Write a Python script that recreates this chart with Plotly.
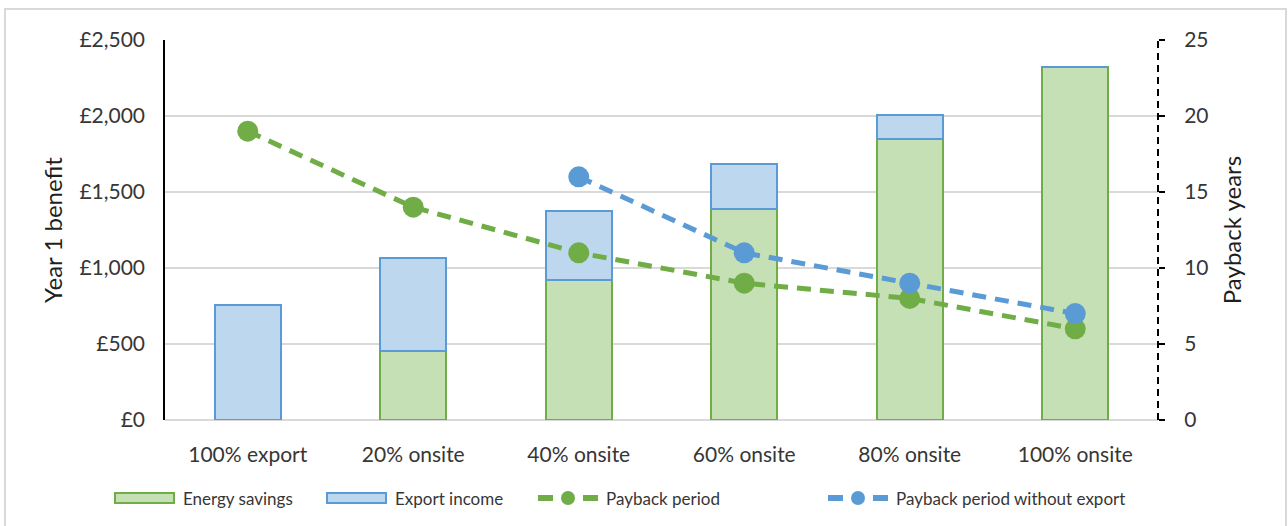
import plotly.graph_objects as go

# Scenario categories and values
categories = ["100% export", "20% onsite", "40% onsite", "60% onsite", "80% onsite", "100% onsite"]
energy_savings = [0, 455, 920, 1385, 1850, 2320]
export_income = [755, 610, 455, 300, 155, 0]
payback_period = [19, 14, 11, 9, 8, 6]
payback_no_export = [None, None, 16, 11, 9, 7]

left_ticks = [0, 500, 1000, 1500, 2000, 2500]
left_tick_text = ["£0", "£500", "£1,000", "£1,500", "£2,000", "£2,500"]
right_ticks = [0, 5, 10, 15, 20, 25]

GREEN = "#70AD47"
GREEN_FILL = "#C5E0B4"
BLUE = "#5B9BD5"
BLUE_FILL = "#BDD7EE"
FONT = "Lato"
TEXT = "#363636"

fig = go.Figure()

fig.add_trace(go.Bar(
    x=categories, y=energy_savings, name="Energy savings",
    marker=dict(color=GREEN_FILL, line=dict(color=GREEN, width=2)),
    showlegend=False,
))
fig.add_trace(go.Bar(
    x=categories, y=export_income, name="Export income",
    marker=dict(color=BLUE_FILL, line=dict(color=BLUE, width=2)),
    showlegend=False,
))
fig.add_trace(go.Scatter(
    x=categories, y=payback_period, name="Payback period", yaxis="y2",
    mode="lines+markers",
    line=dict(color=GREEN, width=5, dash="14px,9px"),
    marker=dict(color=GREEN, size=21),
    showlegend=False,
))
fig.add_trace(go.Scatter(
    x=categories, y=payback_no_export, name="Payback period without export", yaxis="y2",
    mode="lines+markers",
    line=dict(color=BLUE, width=5, dash="14px,9px"),
    marker=dict(color=BLUE, size=21),
    showlegend=False,
))

# Legend drawn beneath the chart
shapes = []
annotations = []
items = [
    ("bar", GREEN_FILL, GREEN, "Energy savings", 115),
    ("bar", BLUE_FILL, BLUE, "Export income", 327),
    ("line", GREEN, GREEN, "Payback period", 538),
    ("line", BLUE, BLUE, "Payback period without export", 828),
]
plot_l, plot_w, plot_t, plot_h = 165, 993, 40, 380


def px_x(v):
    return (v - plot_l) / plot_w


def px_y(v):
    return 1 - (v - plot_t) / plot_h


ly = 498
for kind, fill, edge, label, x0 in items:
    if kind == "bar":
        shapes.append(dict(type="rect", xref="paper", yref="paper",
                           x0=px_x(x0), x1=px_x(x0 + 59), y0=px_y(ly + 5), y1=px_y(ly - 5),
                           fillcolor=fill, line=dict(color=edge, width=2)))
    else:
        for a, b in [(x0, x0 + 15), (x0 + 45, x0 + 60)]:
            shapes.append(dict(type="line", xref="paper", yref="paper",
                               x0=px_x(a), x1=px_x(b), y0=px_y(ly), y1=px_y(ly),
                               line=dict(color=edge, width=6)))
        shapes.append(dict(type="circle", xref="paper", yref="paper",
                           x0=px_x(x0 + 23), x1=px_x(x0 + 37), y0=px_y(ly + 7), y1=px_y(ly - 7),
                           fillcolor=edge, line=dict(color=edge, width=0)))
    annotations.append(dict(text=label, xref="paper", yref="paper",
                            x=px_x(x0 + 66), y=px_y(ly), xanchor="left", yanchor="middle",
                            showarrow=False, font=dict(family=FONT, size=17, color=TEXT)))

# Dashed secondary axis line
shapes.append(dict(type="line", xref="paper", yref="paper", x0=1, x1=1, y0=0, y1=1,
                   line=dict(color="black", width=2, dash="7px,5px")))

# Outer chart border
shapes.append(dict(type="rect", xref="paper", yref="paper",
                   x0=px_x(5), x1=px_x(1286), y0=px_y(540), y1=px_y(9),
                   line=dict(color="#D9D9D9", width=2), fillcolor="rgba(0,0,0,0)", layer="below"))

fig.update_layout(
    width=1288, height=526,
    margin=dict(l=165, r=130, t=40, b=106),
    paper_bgcolor="white", plot_bgcolor="white",
    barmode="stack", bargap=0.6,
    font=dict(family=FONT, size=20, color=TEXT),
    xaxis=dict(
        showgrid=False, ticks="", showline=False, ticklabelstandoff=20,
        tickfont=dict(family=FONT, size=21, color=TEXT),
    ),
    yaxis=dict(
        range=[0, 2500], tickvals=left_ticks, ticktext=left_tick_text,
        showgrid=True, gridcolor="#D9D9D9", gridwidth=2,
        showline=True, linecolor="black", linewidth=1.5,
        zeroline=True, zerolinecolor="#D9D9D9", zerolinewidth=2,
        ticks="", ticklabelstandoff=14,
        title=dict(text="Year 1 benefit", font=dict(family=FONT, size=24, color="#1f1f1f"), standoff=10),
        tickfont=dict(family=FONT, size=21, color=TEXT),
    ),
    yaxis2=dict(
        range=[0, 25], tickvals=right_ticks, overlaying="y", side="right",
        showgrid=False, zeroline=False, showline=False,
        ticks="outside", ticklen=6, tickcolor="black", tickwidth=2,
        ticklabelstandoff=15,
        title=dict(text="Payback years", font=dict(family=FONT, size=24, color="#1f1f1f"), standoff=16),
        tickfont=dict(family=FONT, size=21, color=TEXT),
    ),
    shapes=shapes,
    annotations=annotations,
)

fig.write_html("out.html")
